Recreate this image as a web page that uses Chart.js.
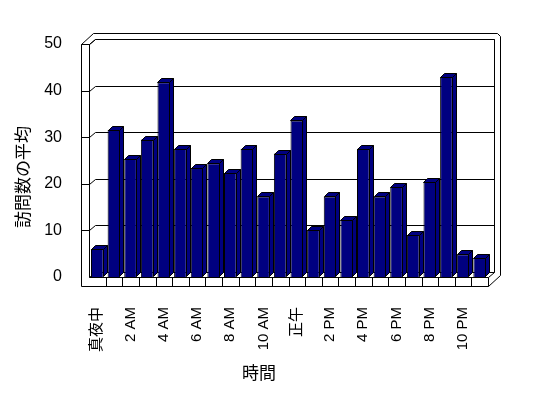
<html lang="ja">
<head>
  <meta charset="UTF-8">
  <title>訪問数の平均</title>
  <script src="https://cdn.jsdelivr.net/npm/chart.js"></script>
  <style>
    body { margin: 0; background: #fff; }
  </style>
  <script>
    // data
    const hours = ['真夜中', '1 AM', '2 AM', '3 AM', '4 AM', '5 AM', '6 AM', '7 AM', '8 AM', '9 AM', '10 AM', '11 AM',
      '正午', '1 PM', '2 PM', '3 PM', '4 PM', '5 PM', '6 PM', '7 PM', '8 PM', '9 PM', '10 PM', '11 PM']
    const visits = [6.0, 31.6, 25.3, 29.5, 41.8, 27.5, 23.4, 24.4, 22.3, 27.5, 17.3, 26.5,
      33.6, 10.1, 17.3, 12.3, 27.5, 17.3, 19.3, 9.0, 20.4, 42.9, 4.9, 4.1]
    const yTicks = [0, 10, 20, 30, 40, 50]
    const xTitle = '時間'
    const yTitle = '訪問数の平均'

    const FONT = "'Liberation Sans', 'Noto Sans CJK JP', sans-serif"
    const NAVY = '#000080'

    const px = v => Math.round(v) + 0.5

    function line(ctx, x1, y1, x2, y2) {
      ctx.beginPath()
      ctx.moveTo(px(x1), px(y1))
      ctx.lineTo(px(x2), px(y2))
      ctx.stroke()
    }

    // walls, floor and gridlines of the 3d box
    const walls = {
      id: 'walls',
      beforeDatasetsDraw(chart) {
        const ctx = chart.ctx
        const { left: L, right: R } = chart.chartArea
        const ys = chart.scales.y
        const y0 = ys.getPixelForValue(yTicks[0])
        const yT = ys.getPixelForValue(yTicks[yTicks.length - 1])
        const dx = 6, dy = -5, tx = 12, ty = -11
        const slab = L - 8, floorB = y0 + 9
        const cw = (R - L) / hours.length

        ctx.save()
        ctx.strokeStyle = '#000'
        ctx.lineWidth = 1

        // left wall
        line(ctx, slab, yT, L, yT)
        line(ctx, slab, yT, slab, floorB)
        line(ctx, L, yT, L, y0)
        line(ctx, slab, yT, slab + tx, yT + ty)
        line(ctx, L, yT, L + dx, yT + dy)

        // back wall
        line(ctx, slab + tx, yT + ty, R + tx - 3, yT + ty)
        line(ctx, R + tx - 3, yT + ty, R + tx, yT + ty + 3)
        line(ctx, R + tx, yT + ty + 3, R + tx, y0 + ty + 9)
        line(ctx, L + dx, yT + dy, R + dx, yT + dy)
        line(ctx, R + dx, yT + dy, R + dx, y0 + dy)

        // gridlines
        yTicks.forEach(v => {
          const y = ys.getPixelForValue(v)
          line(ctx, L + dx, y + dy, R + dx, y + dy)
          line(ctx, L, y, L + dx, y + dy)
          if (v !== yTicks[0]) line(ctx, slab, y, L, y)
        })

        // floor
        line(ctx, L, y0, R, y0)
        line(ctx, slab, floorB, R, floorB)
        line(ctx, R, y0, R, floorB)
        line(ctx, R, y0, R + dx, y0 + dy)
        line(ctx, R, floorB, R + tx, y0 + ty + 9)
        for (let i = 1; i < hours.length; i++) {
          line(ctx, L + i * cw, y0, L + i * cw, floorB)
        }
        ctx.restore()
      },

      // sides and tops of the bars
      afterDatasetsDraw(chart) {
        const ctx = chart.ctx
        const meta = chart.getDatasetMeta(0)
        const d = 4
        ctx.save()
        ctx.fillStyle = NAVY
        ctx.strokeStyle = '#000'
        ctx.lineWidth = 1
        meta.data.forEach(bar => {
          const { x, y, base, width } = bar.getProps(['x', 'y', 'base', 'width'], true)
          const l = Math.round(x - width / 2) + 0.5
          const r = Math.round(x + width / 2) - 0.5
          const t = Math.round(y) + 0.5
          const b = Math.round(base) - 0.5
          ctx.beginPath()
          ctx.moveTo(r, t)
          ctx.lineTo(r + d, t - d)
          ctx.lineTo(r + d, b - d)
          ctx.lineTo(r, b)
          ctx.closePath()
          ctx.fill()
          ctx.stroke()
          ctx.beginPath()
          ctx.moveTo(l, t)
          ctx.lineTo(l + d, t - d)
          ctx.lineTo(r + d, t - d)
          ctx.lineTo(r, t)
          ctx.closePath()
          ctx.fill()
          ctx.stroke()
        })
        ctx.restore()
      },

      afterDraw(chart) {
        const ctx = chart.ctx
        ctx.save()
        ctx.fillStyle = '#000'
        ctx.font = '17px ' + FONT
        ctx.textAlign = 'center'
        ctx.textBaseline = 'middle'
        ctx.fillText(xTitle, 259, 374)
        ctx.translate(24, 177)
        ctx.rotate(-Math.PI / 2)
        ctx.fillText(yTitle, 0, 0)
        ctx.restore()
      }
    }

    window.onload = () => {
      const viz = document.getElementById('viz')
      new Chart(viz, {
        type: 'bar',
        data: {
          labels: hours,
          datasets: [{
            label: yTitle,
            data: visits,
            backgroundColor: NAVY,
            borderColor: '#000',
            borderWidth: 1,
            barPercentage: 0.76,
            categoryPercentage: 1
          }]
        },
        options: {
          responsive: false,
          animation: false,
          devicePixelRatio: 1,
          layout: { padding: { top: 44, right: 60, bottom: 0, left: 0 } },
          plugins: {
            legend: { display: false },
            tooltip: { enabled: false }
          },
          scales: {
            x: {
              grid: { display: false },
              border: { display: false },
              ticks: {
                autoSkip: false,
                minRotation: 90,
                maxRotation: 90,
                padding: 22,
                color: '#000',
                font: { family: FONT, size: 15 },
                callback: (v, i) => i % 2 === 0 ? hours[i] : ''
              },
              afterFit: s => { s.height = 398 - 277 }
            },
            y: {
              min: yTicks[0],
              max: yTicks[yTicks.length - 1],
              grid: { display: false },
              border: { display: false },
              ticks: {
                stepSize: 10,
                padding: 19,
                color: '#000',
                font: { family: FONT, size: 16 }
              },
              afterFit: s => { s.width = 89 }
            }
          }
        },
        plugins: [walls]
      })
    }
  </script>
</head>
<body>
  <canvas id="viz" width="548" height="398"></canvas>
</body>
</html>
